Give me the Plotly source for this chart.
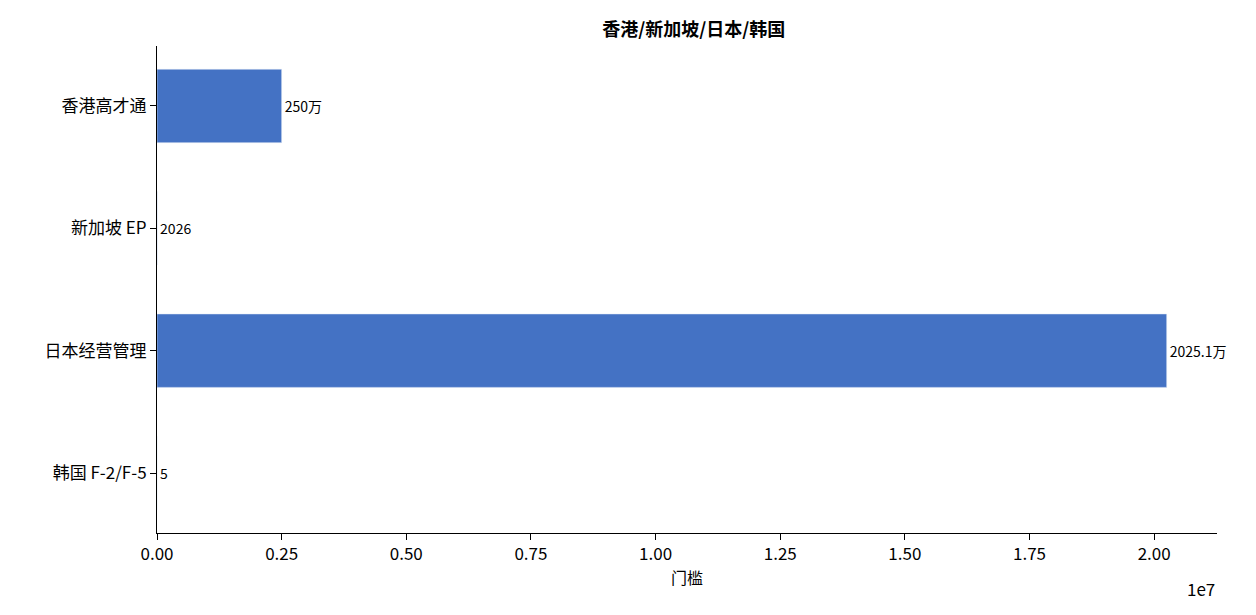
import plotly.graph_objects as go

categories = ["香港高才通", "新加坡 EP", "日本经营管理", "韩国 F-2/F-5"]
values = [2500000, 2026, 20251000, 5]
labels = ["250万", "2026", "2025.1万", "5"]
tick_vals = [0, 2.5e6, 5e6, 7.5e6, 1e7, 1.25e7, 1.5e7, 1.75e7, 2e7]
tick_text = ["0.00", "0.25", "0.50", "0.75", "1.00", "1.25", "1.50", "1.75", "2.00"]

font = "Noto Sans CJK SC"
fig = go.Figure()
fig.add_trace(go.Bar(
    x=values, y=list(range(len(categories))), orientation="h", width=0.6,
    marker_color="#4472c4", text=labels, textposition="outside",
    textfont=dict(size=14, color="black"), cliponaxis=False,
))
fig.update_layout(
    width=1256, height=615, plot_bgcolor="white", paper_bgcolor="white",
    font=dict(family=font, size=17, color="black"),
    margin=dict(l=149, r=47, t=38, b=90),
    title=dict(text="<b>香港/新加坡/日本/韩国</b>", x=0.546, xanchor="center", y=0.975, font=dict(size=18)),
    showlegend=False, uniformtext=dict(minsize=14),
)
fig.update_xaxes(
    range=[0, 2.126e7], tickvals=tick_vals, ticktext=tick_text,
    showline=True, linecolor="black", ticks="outside", ticklen=6, tickcolor="black",
    showgrid=False, zeroline=False, title=dict(text="门槛", font=dict(size=16), standoff=6),
)
fig.update_yaxes(
    range=[3.49, -0.49], tickvals=list(range(len(categories))), ticktext=categories,
    showline=True, linecolor="black", ticks="outside", ticklen=6, tickcolor="black",
    showgrid=False, zeroline=False,
)
fig.add_annotation(text="1e7", xref="paper", yref="paper", x=1.0, y=-0.085,
                   xanchor="right", yanchor="top", showarrow=False, font=dict(size=17))
fig.write_html("out.html")
